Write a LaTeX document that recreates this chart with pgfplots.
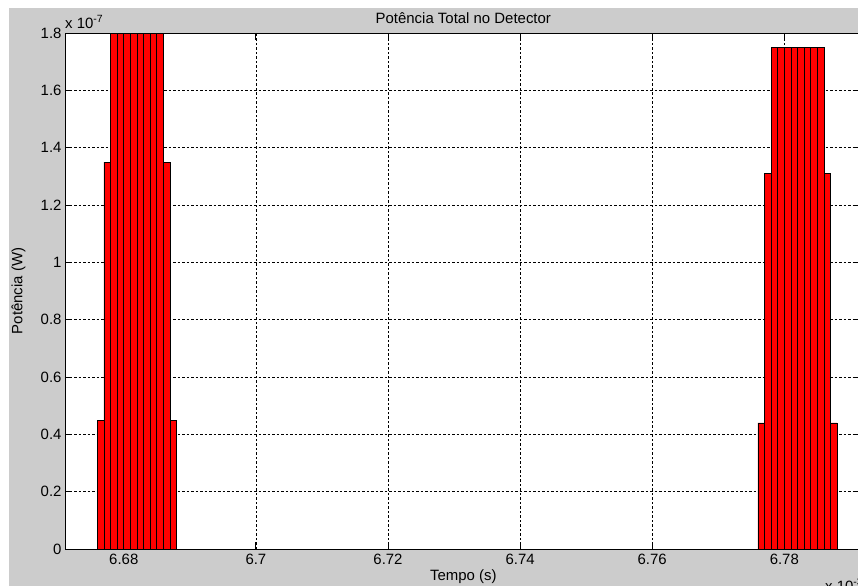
\documentclass[border=0pt]{standalone}
\usepackage{pgfplots}
\pgfplotsset{compat=1.18}
\usepackage{fontspec}
\setmainfont{Liberation Sans}
\definecolor{figgray}{RGB}{204,204,204}
\begin{document}
\begin{tikzpicture}[font=\fontsize{15}{18}\selectfont]
\useasboundingbox (0bp,0bp) rectangle (858bp,-586bp);
\fill[white] (0bp,0bp) rectangle (858bp,-586bp);
\fill[figgray] (9bp,-8bp) rectangle (870bp,-600bp);
\begin{axis}[
  at={(65bp,-549bp)}, anchor=south west,
  scale only axis, width=796.6bp, height=516bp,
  xmin=6.6711, xmax=6.7917, ymin=0, ymax=1.8,
  axis background/.style={fill=white},
  ybar, bar width=0.001,
  xtick={6.68,6.7,6.72,6.74,6.76,6.78},
  ytick={0,0.2,0.4,0.6,0.8,1,1.2,1.4,1.6,1.8},
  grid=major,
  major grid style={black, dash pattern=on 2.5bp off 2bp, line width=0.5bp},
  tick align=inside, major tick length=7bp,
  axis line style={black, line width=0.8bp},
  tick style={black, line width=0.8bp},
  scaled ticks=false,
  /pgf/number format/assume math mode=true,
  xticklabel style={/pgf/number format/fixed, /pgf/number format/precision=2, yshift=-2bp},
  yticklabel style={/pgf/number format/fixed, /pgf/number format/precision=1},
  title={Potência Total no Detector},
  title style={at={(axis description cs:0.5,1.006)}, anchor=base, inner sep=0pt},
  xlabel={Tempo (s)},
  xlabel style={at={(axis description cs:0.5,-0.062)}, anchor=base, inner sep=0pt},
  ylabel={Potência (W)},
  ylabel style={at={(axis description cs:-0.0584,0.5)}, anchor=center, inner sep=0pt},
]
\addplot[fill=red, draw=black, line width=0.7bp] coordinates {
 (6.6765,0.45) (6.6775,1.35) (6.6785,1.8) (6.6795,1.8) (6.6805,1.8) (6.6815,1.8)
 (6.6825,1.8) (6.6835,1.8) (6.6845,1.8) (6.6855,1.8) (6.6865,1.35) (6.6875,0.45)
 (6.7765,0.44) (6.7775,1.31) (6.7785,1.75) (6.7795,1.75) (6.7805,1.75) (6.7815,1.75)
 (6.7825,1.75) (6.7835,1.75) (6.7845,1.75) (6.7855,1.75) (6.7865,1.31) (6.7875,0.44)
};
\end{axis}
\node[anchor=base west, inner sep=0pt] at (65bp,-28bp) {x 10\textsuperscript{-7}};
\node[anchor=base west, inner sep=0pt] at (825bp,-591bp) {x 10\textsuperscript{-3}};
\end{tikzpicture}
\end{document}
